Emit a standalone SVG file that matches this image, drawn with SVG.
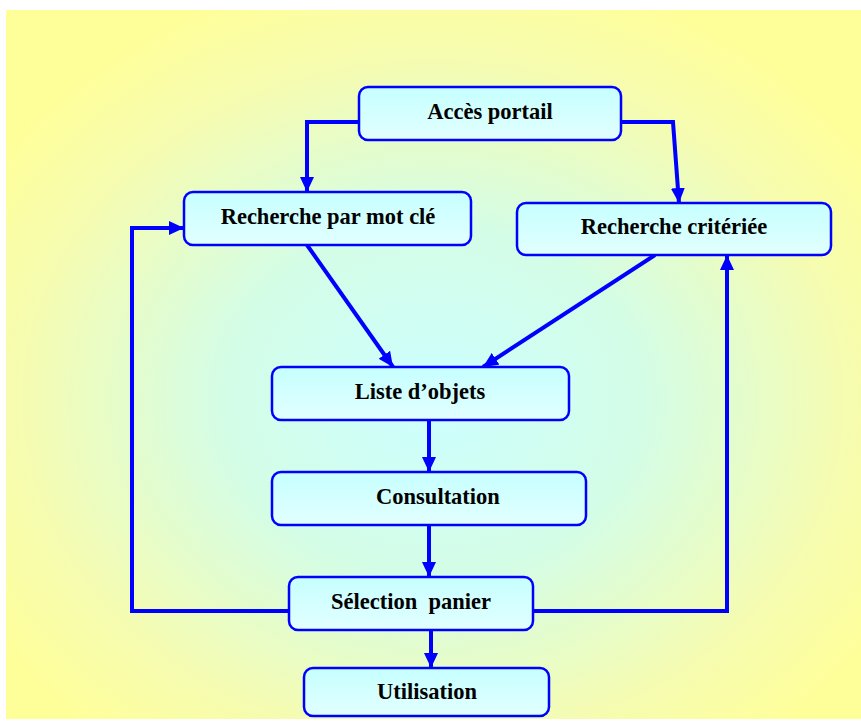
<svg xmlns="http://www.w3.org/2000/svg" width="861" height="722" viewBox="0 0 861 722">
<style>
.box{fill:url(#boxg);stroke:#0000ff;stroke-width:2.5}
.lbl{font-family:"Liberation Serif","Times New Roman",serif;font-weight:bold;font-size:22.5px;fill:#000;text-anchor:middle}
.con{fill:none;stroke:#0000ff;stroke-width:4;stroke-linejoin:miter}
</style>
<defs>
<radialGradient id="bg" cx="0.5" cy="0.55" r="0.62">
<stop offset="0" stop-color="#ccffff"/>
<stop offset="0.4" stop-color="#d4fde6"/>
<stop offset="0.78" stop-color="#f6fcb0"/>
<stop offset="1" stop-color="#ffff99"/>
</radialGradient>
<linearGradient id="boxg" x1="0" y1="0" x2="0" y2="1">
<stop offset="0" stop-color="#c6ffff"/>
<stop offset="1" stop-color="#e2ffff"/>
</linearGradient>
<marker id="ah" markerUnits="userSpaceOnUse" markerWidth="16" markerHeight="14" refX="15" refY="7" orient="auto">
<path d="M0,0 L15,7 L0,14 z" fill="#0000ff"/>
</marker>
</defs>
<rect x="0" y="0" width="861" height="722" fill="#ffffff"/>
<rect x="6" y="10" width="855" height="709" fill="url(#bg)"/>
<g id="connectors">
<polyline class="con" points="359,122 307,122 307,192" marker-end="url(#ah)"/>
<polyline class="con" points="621,122 673,122 679,203" marker-end="url(#ah)"/>
<line class="con" x1="307" y1="245" x2="393" y2="367" marker-end="url(#ah)"/>
<line class="con" x1="655" y1="255" x2="483" y2="367" marker-end="url(#ah)"/>
<line class="con" x1="429" y1="420" x2="429" y2="472" marker-end="url(#ah)"/>
<line class="con" x1="429" y1="525" x2="429" y2="577" marker-end="url(#ah)"/>
<line class="con" x1="431" y1="630" x2="431" y2="668" marker-end="url(#ah)"/>
<polyline class="con" points="289,611 132,611 132,228 184,228" marker-end="url(#ah)"/>
<polyline class="con" points="533,611 727,611 727,255" marker-end="url(#ah)"/>
</g>
<g id="acces">
<rect class="box" x="359" y="87" width="262" height="53" rx="9"/>
<text class="lbl" x="490" y="119">Accès portail</text>
</g>
<g id="motcle">
<rect class="box" x="184" y="192" width="287" height="53" rx="9"/>
<text class="lbl" x="328" y="224">Recherche par mot clé</text>
</g>
<g id="criteriee">
<rect class="box" x="517" y="203" width="314" height="52" rx="9"/>
<text class="lbl" x="674" y="234">Recherche critériée</text>
</g>
<g id="liste">
<rect class="box" x="272" y="367" width="297" height="53" rx="9"/>
<text class="lbl" x="420" y="399">Liste d’objets</text>
</g>
<g id="consultation">
<rect class="box" x="272" y="472" width="314" height="53" rx="9"/>
<text class="lbl" x="438" y="504">Consultation</text>
</g>
<g id="selection">
<rect class="box" x="289" y="577" width="244" height="53" rx="9"/>
<text class="lbl" x="411" y="609" xml:space="preserve">Sélection  panier</text>
</g>
<g id="utilisation">
<rect class="box" x="304" y="668" width="245" height="48" rx="9"/>
<text class="lbl" x="427" y="699">Utilisation</text>
</g>
</svg>
